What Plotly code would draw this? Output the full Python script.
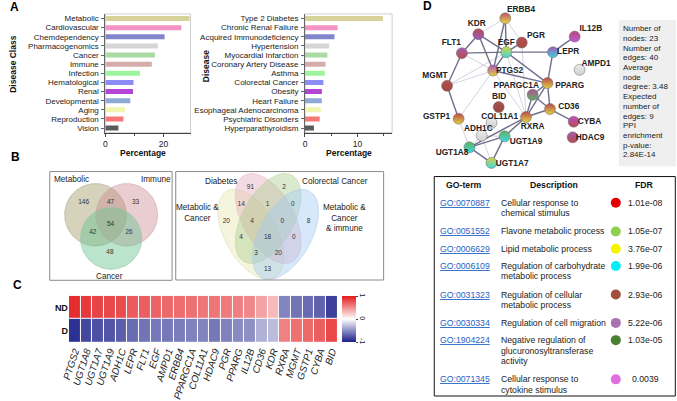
import numpy as np
import plotly.graph_objects as go

W, H = 677, 401
FONT = "Liberation Sans, Arial, Helvetica, sans-serif"

# ---------------- Panel A data ----------------
class_labels = ["Metabolic", "Cardiovascular", "Chemdependency", "Pharmacogenomics", "Cancer",
                "Immune", "Infection", "Hematological", "Renal", "Developmental", "Aging",
                "Reproduction", "Vision"]
class_pct = [29.0, 26.2, 20.4, 18.1, 17.1, 16.0, 11.9, 9.7, 9.5, 8.6, 6.7, 6.2, 4.5]
disease_labels = ["Type 2 Diabetes", "Chronic Renal Failure", "Acquired Immunodeficiency",
                  "Hypertension", "Myocardial Infarction", "Coronary Artery Disease", "Asthma",
                  "Colorectal Cancer", "Obesity", "Heart Failure", "Esophageal Adenocarcinoma",
                  "Psychiatric Disorders", "Hyperparathyroidism"]
disease_pct = [14.8, 6.2, 5.6, 4.6, 4.25, 3.9, 3.75, 3.5, 3.2, 3.2, 3.0, 2.8, 1.7]
bar_colors = ["#d6d29a", "#f592c6", "#7f86cc", "#d6d6d6", "#a9dba2", "#d6abab", "#9cf59c",
              "#8c8cf7", "#b244d6", "#8daad6", "#f2f5ad", "#f57878", "#5c5c5c"]

# ---------------- Panel B data ----------------
venn3_sets = ["Metabolic", "Immune", "Cancer"]
venn3_counts = [146, 47, 33, 54, 42, 26, 48]
venn4_sets = ["Metabolic &<br>Cancer", "Diabetes", "Colorectal Cancer", "Metabolic &<br>Cancer<br>& immune"]
venn4_counts = [20, 91, 2, 8, 14, 1, 0, 4, 0, 4, 18, 0, 3, 20, 13]

# ---------------- Panel C data ----------------
genes = ["PTGS2", "UGT1A8", "UGT1A7", "UGT1A9", "ADH1C", "LEPR", "FLT1", "EGF", "AMPD1", "ERBB4",
         "PPARGC1A", "COL11A1", "HDAC9", "PGR", "PPARG", "IL12B", "CD36", "KDR", "RXRA", "MGMT",
         "GSTP1", "CYBA", "BID"]
row_labels = ["ND", "D"]
nd_vals = [0.92, 0.86, 0.82, 0.8, 0.78, 0.72, 0.7, 0.68, 0.66, 0.64, 0.62, 0.6, 0.6, 0.58, 0.56,
           0.52, 0.4, 0.3, -0.55, -0.62, -0.66, -0.7, -0.86]
d_vals = [-0.92, -0.82, -0.78, -0.76, -0.72, -0.66, -0.62, -0.6, -0.6, -0.58, -0.56, -0.55, -0.6,
          -0.56, -0.52, -0.5, -0.35, -0.3, 0.55, 0.62, 0.66, 0.7, 0.8]

# ---------------- Panel D data ----------------
node_names = ["ERBB4", "KDR", "PGR", "IL12B", "FLT1", "EGF", "LEPR", "AMPD1", "PTGS2", "MGMT",
              "PPARGC1A", "PPARG", "BID", "CD36", "GSTP1", "COL11A1", "RXRA", "CYBA", "ADH1C",
              "UGT1A9", "HDAC9", "UGT1A8", "UGT1A7"]
node_x = [504, 476.7, 520.7, 574.3, 460, 505, 552.3, 579.3, 491.7, 445, 531.7, 546.7, 497.3,
          549.3, 456.7, 490, 525, 573.3, 480, 503.3, 572.3, 467.7, 490]
node_y = [18.3, 34.3, 42.7, 36.7, 53.3, 52.3, 52.3, 70, 70.7, 86, 95, 83.3, 107.3, 109.3, 119,
          123.3, 117.3, 122, 136, 136.7, 137.7, 147.7, 163.3]
label_x = [520, 475, 535, 590.7, 449.3, 505, 567.7, 596, 508.3, 432.7, 515, 569.3, 497.7, 568.3,
           434.3, 498.3, 531.7, 589.3, 476.7, 525, 590, 450, 511]
label_y = [10, 24.3, 35.7, 29.3, 43.3, 42.7, 52.3, 64, 70.7, 76, 86, 86, 97.3, 107.3, 117.3,
           117.3, 127.7, 122.3, 129, 142.7, 138.7, 153.3, 164]
node_col1 = ["#c0506a", "#b84a55", "#b5524c", "#b44a7a", "#a85ab0", "#d8d040", "#a85ab0",
             "#ececec", "#b050c0", "#b5524c", "#b0509a", "#b84a50", "#a8524c", "#b84a50",
             "#b84a50", "#ececec", "#b84a50", "#c050c0", "#ececec", "#60b060", "#a85ab0",
             "#60b060", "#d8d040"]
node_col2 = ["#e6d84a", "#9a5ab8", "#a84a44", "#c05ad0", "#b84a50", "#40d8e0", "#40d0e0",
             "#cfcfcf", "#e0d040", "#a04840", "#60b060", "#e0d040", "#9a4640", "#e0d040",
             "#e0d040", "#cfcfcf", "#e0d040", "#b84a50", "#cfcfcf", "#40d8e0", "#b84a50",
             "#40d8e0", "#40d8e0"]
edges_strong = [("KDR", "EGF"), ("KDR", "FLT1"), ("KDR", "PTGS2"), ("ERBB4", "EGF"),
                ("ERBB4", "PTGS2"), ("FLT1", "EGF"), ("FLT1", "MGMT"), ("EGF", "PGR"),
                ("EGF", "LEPR"), ("EGF", "PTGS2"), ("EGF", "PPARG"), ("LEPR", "IL12B"),
                ("LEPR", "PPARG"), ("PTGS2", "PPARG"), ("MGMT", "GSTP1"), ("PPARG", "PPARGC1A"),
                ("PPARG", "RXRA"), ("PPARG", "CD36"), ("PPARGC1A", "RXRA"), ("PPARGC1A", "CD36"),
                ("CD36", "CYBA"), ("RXRA", "CD36"), ("RXRA", "UGT1A9"), ("RXRA", "UGT1A8"),
                ("UGT1A9", "UGT1A8"), ("UGT1A9", "UGT1A7"), ("UGT1A8", "UGT1A7")]
edges_light = [("KDR", "ERBB4"), ("ERBB4", "PGR"), ("FLT1", "PTGS2"), ("EGF", "MGMT"),
               ("EGF", "RXRA"), ("PGR", "RXRA"), ("PTGS2", "MGMT"), ("PTGS2", "RXRA"),
               ("PTGS2", "GSTP1"), ("GSTP1", "UGT1A8"), ("ADH1C", "UGT1A7"),
               ("ADH1C", "UGT1A8"), ("ADH1C", "UGT1A9")]
net_stats = ["Number of", "nodes: 23", "Number of", "edges: 40", "Average", "node",
             "degree: 3.48", "Expected", "number of", "edges: 9", "PPI", "enrichment",
             "p-value:", "2.84E-14"]

go_ids = ["GO:0070887", "GO:0051552", "GO:0006629", "GO:0006109", "GO:0031323", "GO:0030334",
          "GO:1904224", "GO:0071345"]
go_desc = [["Cellular response to", "chemical stimulus"], ["Flavone metabolic process"],
           ["Lipid metabolic process"], ["Regulation of carbohydrate", "metabolic process"],
           ["Regulation of cellular", "metabolic process"], ["Regulation of cell migration"],
           ["Negative regulation of", "glucuronosyltransferase", "activity"],
           ["Cellular response to", "cytokine stimulus"]]
go_fdr = ["1.01e-08", "1.05e-07", "3.76e-07", "1.99e-06", "2.93e-06", "5.22e-06", "1.03e-05",
          "0.0039"]
go_colors = ["#e00000", "#8fd14f", "#f5f500", "#00f0f5", "#a0503c", "#a872b4", "#4a7f30",
             "#e070e0"]

# ---------------- layout positions (pixels) ----------------
go_row_y = [203.3, 232, 249.3, 266.7, 295.3, 323.7, 341, 380.3]
venn3_num_pos = [(76.7, 203.3), (104, 203.3), (129.3, 203.3), (104, 225), (86, 233.3),
                 (122.7, 233.3), (103.3, 253.3)]
venn3_lab_pos = [(64.3, 180), (150, 180), (103.3, 276.7)]
venn3_circles = [(88.7, 215.3, 31.3), (120.3, 215.3, 31.3), (104.5, 239, 31)]
venn3_fill = ["rgba(165,155,105,0.45)", "rgba(205,135,145,0.42)", "rgba(105,195,145,0.45)"]
venn3_line = ["#b0aa88", "#cca4a9", "#8cc6a6"]
venn4_num_pos = [(221.3, 221.7), (245.7, 188.3), (279.7, 188.3), (304.7, 221.7), (236.3, 205),
                 (263, 205), (288.7, 205), (247.3, 221.7), (278, 221.7), (236.3, 238.3),
                 (263, 238.3), (289.7, 238.3), (251.3, 254.3), (274, 254.3), (263, 270)]
venn4_lab_pos = [(192, 213.5), (216.3, 182.3), (331.3, 182.3), (341.3, 218.5)]
# 4-set ellipses in unit layout, then stretched into the panel
venn4_centers = [(-0.15, 0.10), (0.0, 0.0), (0.0, 0.0), (0.15, 0.10)]
venn4_tilt = [1, 1, -1, -1]
venn4_a, venn4_b = 0.35, 0.2
venn4_origin = (263.7, 219.1)
venn4_scale = (117.2, 158.2)
venn4_fill = ["rgba(232,232,180,0.45)", "rgba(228,165,185,0.4)", "rgba(170,205,140,0.42)",
              "rgba(160,200,245,0.42)"]
venn4_line = ["#dcdcb8", "#e4bcc8", "#c0d4ac", "#b0cae8"]


def fx(x):
    return x / W


def fy(y):
    return 1 - y / H


fig = go.Figure()

# ---------------- Panel A bars ----------------
fig.add_trace(go.Bar(y=class_labels, x=class_pct, orientation="h", width=0.55,
                     marker=dict(color=bar_colors, line=dict(width=0)),
                     xaxis="x", yaxis="y", showlegend=False, hoverinfo="skip"))
fig.add_trace(go.Bar(y=disease_labels, x=disease_pct, orientation="h", width=0.55,
                     marker=dict(color=bar_colors, line=dict(width=0)),
                     xaxis="x2", yaxis="y2", showlegend=False, hoverinfo="skip"))

# ---------------- Panel C heatmap ----------------
fig.add_trace(go.Heatmap(
    z=[nd_vals, d_vals], x=genes, y=row_labels, zmin=-1, zmax=1,
    colorscale=[[0, "#1b1f8a"], [0.5, "#ffffff"], [1, "#e31a1c"]],
    xgap=1, ygap=1, xaxis="x3", yaxis="y3", hoverinfo="skip",
    colorbar=dict(x=fx(338.3), xanchor="left", y=fy(320), yanchor="middle",
                  len=46.6 / H, lenmode="fraction", thickness=14, xpad=0, ypad=0,
                  outlinewidth=0, tickvals=[-1, 0, 1], ticktext=["-1", "0", "1"],
                  ticks="outside", ticklen=2, tickangle=90,
                  tickfont=dict(size=7, family=FONT, color="#222"))))

# ---------------- Panel B Venn (pixel axis x4/y4) ----------------
t = np.linspace(0, 2 * np.pi, 140)
for (cx, cy, r), fc, lc in zip(venn3_circles, venn3_fill, venn3_line):
    fig.add_trace(go.Scatter(x=cx + r * np.cos(t), y=cy + r * np.sin(t), mode="lines",
                             fill="toself", fillcolor=fc, line=dict(color=lc, width=0.6),
                             xaxis="x4", yaxis="y4", showlegend=False, hoverinfo="skip"))
c45 = np.sqrt(0.5)
for (mx, my), s, fc, lc in zip(venn4_centers, venn4_tilt, venn4_fill, venn4_line):
    ux, uy = s * c45, c45
    vx, vy = -s * c45, c45
    px_ = mx + venn4_a * np.cos(t) * ux + venn4_b * np.sin(t) * vx
    py_ = my + venn4_a * np.cos(t) * uy + venn4_b * np.sin(t) * vy
    ex = venn4_origin[0] + venn4_scale[0] * px_
    ey = venn4_origin[1] + venn4_scale[1] * py_
    fig.add_trace(go.Scatter(x=ex, y=ey, mode="lines", fill="toself", fillcolor=fc,
                             line=dict(color=lc, width=0.6), xaxis="x4", yaxis="y4",
                             showlegend=False, hoverinfo="skip"))
fig.add_trace(go.Scatter(x=[p[0] for p in venn3_num_pos], y=[p[1] for p in venn3_num_pos],
                         text=[str(v) for v in venn3_counts], mode="text",
                         textfont=dict(size=6.5, family=FONT, color="#333"),
                         xaxis="x4", yaxis="y4", showlegend=False, hoverinfo="skip"))
fig.add_trace(go.Scatter(x=[p[0] for p in venn4_num_pos], y=[p[1] for p in venn4_num_pos],
                         text=[str(v) for v in venn4_counts], mode="text",
                         textfont=dict(size=6.5, family=FONT, color="#333"),
                         xaxis="x4", yaxis="y4", showlegend=False, hoverinfo="skip"))

# ---------------- Panel D network ----------------
idx = {n: i for i, n in enumerate(node_names)}


def edge_xy(edges):
    xs, ys = [], []
    for a, b in edges:
        xs += [node_x[idx[a]], node_x[idx[b]], None]
        ys += [node_y[idx[a]], node_y[idx[b]], None]
    return xs, ys


ex, ey = edge_xy(edges_light)
fig.add_trace(go.Scatter(x=ex, y=ey, mode="lines", line=dict(color="#c9c9d6", width=0.8),
                         xaxis="x4", yaxis="y4", showlegend=False, hoverinfo="skip"))
ex, ey = edge_xy(edges_strong)
fig.add_trace(go.Scatter(x=ex, y=ey, mode="lines", line=dict(color="#6f6f8c", width=1.4),
                         xaxis="x4", yaxis="y4", showlegend=False, hoverinfo="skip"))
fig.add_trace(go.Scatter(x=node_x, y=node_y, mode="markers",
                         marker=dict(size=11, color=node_col1,
                                     gradient=dict(type="vertical", color=node_col2),
                                     line=dict(color="#6a6a6a", width=0.5)),
                         xaxis="x4", yaxis="y4", showlegend=False, hoverinfo="skip"))
fig.add_trace(go.Scatter(x=label_x, y=label_y, mode="text",
                         text=["<b>%s</b>" % n for n in node_names],
                         textfont=dict(size=8.3, family=FONT, color="#222"),
                         xaxis="x4", yaxis="y4", showlegend=False, hoverinfo="skip"))

# GO table dots
fig.add_trace(go.Scatter(x=[616] * len(go_ids), y=go_row_y, mode="markers",
                         marker=dict(size=10, color=go_colors, line=dict(width=0)),
                         xaxis="x4", yaxis="y4", showlegend=False, hoverinfo="skip"))

# ---------------- annotations ----------------
ann = []


def add_text(text, x, y, size=8, bold=False, color="#222", xanchor="center",
             yanchor="middle", angle=0):
    if bold:
        text = "<b>%s</b>" % text
    ann.append(dict(text=text, x=fx(x), y=fy(y), xref="paper", yref="paper",
                    xanchor=xanchor, yanchor=yanchor, showarrow=False, textangle=angle,
                    font=dict(size=size, family=FONT, color=color), borderpad=0))


# panel letters
add_text("A", 7, 7, 12, True, "#000")
add_text("B", 8, 157, 12, True, "#000")
add_text("C", 10, 286, 12, True, "#000")
add_text("D", 425, 6, 12, True, "#000")
# axis titles
add_text("Disease Class", 5, 64, 8.5, True, "#111", angle=-90)
add_text("Disease", 200, 66, 8.5, True, "#111", angle=-90)
add_text("Percentage", 137, 153.5, 8.5, True, "#111")
add_text("Percentage", 346, 153.5, 8.5, True, "#111")
# venn labels
for name, (x, y) in zip(venn3_sets, venn3_lab_pos):
    add_text(name, x, y, 8.2)
for name, (x, y) in zip(venn4_sets, venn4_lab_pos):
    add_text(name, x, y, 8.2)
# network stats
for i, line in enumerate(net_stats):
    add_text(line, 622, 29 + i * 9.7, 8, False, "#222", xanchor="left")
# table header
add_text("GO-term", 462, 185.7, 8.7, True, "#111")
add_text("Description", 553, 185.7, 8.7, True, "#111")
add_text("FDR", 645, 185.7, 8.7, True, "#111")
for gid, desc, fdr, y in zip(go_ids, go_desc, go_fdr, go_row_y):
    add_text("<u>%s</u>" % gid, 437.3, y, 8.7, False, "#1f62c4", xanchor="left")
    for k, line in enumerate(desc):
        add_text(line, 498.7, y + k * 10.4, 8.7, False, "#222", xanchor="left")
    add_text(fdr, 646, y, 8.7, False, "#222")

# ---------------- shapes ----------------
shapes = []
for xr, yr in [("x domain", "y domain"), ("x2 domain", "y2 domain")]:
    shapes.append(dict(type="rect", xref=xr, yref=yr, x0=0, x1=1, y0=0, y1=1,
                       line=dict(color="#d0d0d0", width=1), layer="below"))
shapes.append(dict(type="rect", xref="paper", yref="paper", x0=fx(42.3), x1=fx(166.3),
                   y0=fy(281), y1=fy(172), line=dict(color="#8a8a8a", width=1)))
shapes.append(dict(type="rect", xref="paper", yref="paper", x0=fx(170), x1=fx(380.7),
                   y0=fy(280.7), y1=fy(172), line=dict(color="#8a8a8a", width=1)))
shapes.append(dict(type="rect", xref="paper", yref="paper", x0=fx(619), x1=fx(677),
                   y0=fy(166.7), y1=fy(20), fillcolor="#efefef", line=dict(width=0),
                   layer="below"))
shapes.append(dict(type="rect", xref="paper", yref="paper", x0=fx(432), x1=fx(676.3),
                   y0=fy(397), y1=fy(177), line=dict(color="#111", width=1)))

axis_common = dict(showgrid=False, zeroline=False, fixedrange=True)
tickf = dict(size=8, family=FONT, color="#222")

fig.update_layout(
    width=W, height=H, autosize=False,
    margin=dict(l=0, r=0, t=0, b=0, pad=0),
    paper_bgcolor="white", plot_bgcolor="rgba(0,0,0,0)",
    font=dict(family=FONT, size=8, color="#222"),
    xaxis=dict(domain=[fx(98.7), fx(185)], range=[0, 29.35], anchor="y", showline=True,
               linecolor="#444", linewidth=1, ticks="outside", ticklen=3, tickcolor="#444",
               dtick=20, tickfont=dict(size=8.5, family=FONT, color="#222"),
               minor=dict(dtick=10, ticks="outside", ticklen=2, tickcolor="#444"),
               **axis_common),
    yaxis=dict(domain=[fy(133), fy(14)], anchor="x", autorange="reversed", showline=True,
               linecolor="#666", linewidth=1, ticks="outside", ticklen=3, tickcolor="#666",
               tickmode="array", tickvals=class_labels, ticktext=class_labels,
               tickfont=tickf, ticklabelstandoff=1, **axis_common),
    xaxis2=dict(domain=[fx(301), fx(389.3)], range=[0, 16.56], anchor="y2", showline=True,
                linecolor="#444", linewidth=1, ticks="outside", ticklen=3, tickcolor="#444",
                dtick=10, tickfont=dict(size=8.5, family=FONT, color="#222"),
                minor=dict(dtick=5, ticks="outside", ticklen=2, tickcolor="#444"),
                **axis_common),
    yaxis2=dict(domain=[fy(133), fy(14)], anchor="x2", autorange="reversed", showline=True,
                linecolor="#666", linewidth=1, ticks="outside", ticklen=3, tickcolor="#666",
                tickmode="array", tickvals=disease_labels, ticktext=disease_labels,
                tickfont=tickf, ticklabelstandoff=1, **axis_common),
    xaxis3=dict(domain=[fx(61.7), fx(334)], anchor="y3", tickangle=-72, ticks="",
                tickmode="array", tickvals=genes, ticktext=["<i>%s</i>" % g for g in genes],
                tickfont=dict(size=9.8, family=FONT, color="#222"), showline=False,
                **axis_common),
    yaxis3=dict(domain=[fy(343.5), fy(296.5)], anchor="x3", autorange="reversed", ticks="",
                tickmode="array", tickvals=row_labels,
                ticktext=["<b>%s</b>" % r for r in row_labels],
                tickfont=dict(size=9, family=FONT, color="#111"), showline=False,
                **axis_common),
    xaxis4=dict(domain=[0, 1], range=[0, W], anchor="y4", visible=False, **axis_common),
    yaxis4=dict(domain=[0, 1], range=[H, 0], anchor="x4", visible=False, **axis_common),
    annotations=ann,
    shapes=shapes,
)

fig.write_html("out.html", config={"displayModeBar": False},
               post_script="document.body.style.margin='0';document.body.style.padding='0';"
                           "document.body.style.overflow='hidden';")
